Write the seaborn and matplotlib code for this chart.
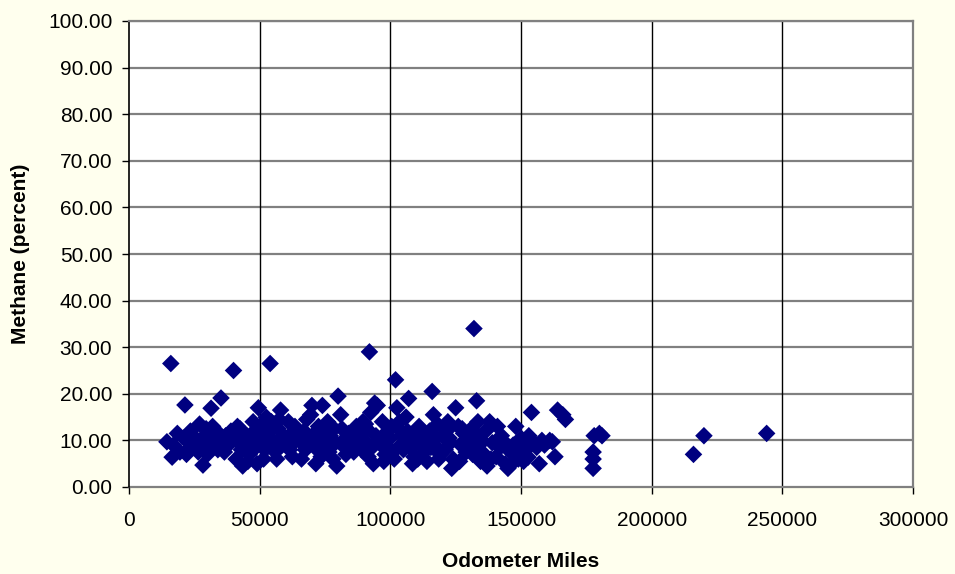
import matplotlib
matplotlib.use("Agg")
import matplotlib.pyplot as plt
import seaborn as sns
import pandas as pd

# Odometer reading (miles) and measured methane share (percent) for each vehicle
odometer_miles = [
    14500, 16500, 17000, 18500, 19500, 16000,
    21400, 21000, 22500, 23500, 24000, 22000, 24500,
    26000, 27000, 28300, 28000, 29000, 29500, 26500,
    31400, 30500, 31000, 32000, 33000, 34000, 33500, 30000,
    35200, 36000, 37000, 38000, 39000, 36500, 38500,
    40000, 40500, 41000, 42000, 43000, 44000, 42500, 43500, 41500,
    45000, 46000, 47000, 48000, 49000, 49500, 47500, 46500, 48500, 45500,
    50000, 51000, 52000, 53000, 54000, 54500, 52500, 51500, 53500, 50500,
    55000, 56000, 57000, 58000, 59000, 57500, 56500, 58500, 55500,
    60000, 61000, 62000, 63000, 64000, 62500, 61500, 63500,
    65000, 66000, 67000, 68000, 69000, 66500, 67500, 69500,
    70000, 71000, 72000, 73000, 74000, 72500, 71500, 73500, 74500,
    75000, 76000, 77000, 78000, 79000, 80000, 76500, 78500, 79500,
    81000, 82000, 83000, 84000, 82500, 84500, 81500,
    85000, 86000, 87000, 88000, 89000, 86500, 88500, 89500,
    90000, 91000, 92000, 92500, 93000, 94000, 94500, 93500, 91500, 90500,
    95000, 96000, 97000, 98000, 99000, 96500, 97500, 98500, 99500,
    100000, 101000, 102000, 102500, 103000, 104000, 101500, 103500, 104500, 100500,
    105000, 106000, 107000, 108000, 109000, 106500, 107500, 108500, 109500,
    110000, 111000, 112000, 113000, 114000, 112500, 113500, 110500,
    115000, 116000, 117000, 118000, 119000, 116500, 117500, 118500, 115500,
    120000, 121000, 122000, 123000, 124000, 125000, 121500, 123500, 122500,
    126000, 127000, 128000, 129000, 126500, 128500, 127500,
    130000, 131000, 132000, 133000, 134000, 132500, 131500, 133500, 134500, 130500,
    135000, 136000, 137000, 138000, 139000, 136500, 138500,
    141000, 142000, 143000, 144000, 145000, 142500, 140500,
    146000, 147000, 148000, 149000, 146500,
    150000, 151000, 152000, 153000, 154000, 153500, 152700, 150800,
    155000, 156000, 157000, 158000, 159000,
    161000, 162000, 163000, 164000, 166000, 167000,
    178000, 180000, 181000, 177600, 177600, 177600,
    216000, 220000, 244000,
]

methane_pct = [
    9.7, 6.4, 9.0, 11.5, 7.5, 26.5,
    17.6, 10.5, 8.0, 12.0, 9.5, 7.0, 11.0,
    10.0, 13.5, 4.7, 8.5, 11.0, 12.5, 7.5,
    16.9, 9.0, 11.5, 13.0, 10.0, 8.0, 12.0, 7.0,
    19.1, 10.5, 11.0, 9.0, 12.0, 7.5, 10.0,
    25.0, 11.5, 6.0, 9.5, 8.0, 10.5, 12.5, 4.5, 13.0,
    11.0, 7.0, 9.0, 12.0, 5.0, 17.0, 14.0, 10.0, 8.5, 5.5,
    13.0, 10.5, 8.0, 11.5, 26.5, 14.0, 15.0, 6.0, 9.5, 12.0,
    10.0, 7.5, 12.5, 16.5, 11.0, 14.5, 6.0, 9.0, 13.5,
    10.5, 14.0, 9.0, 12.0, 11.0, 6.5, 8.0, 13.0,
    10.0, 6.0, 12.0, 14.5, 9.5, 11.0, 8.0, 15.5,
    17.5, 11.5, 8.0, 10.0, 17.5, 13.0, 5.0, 6.5, 12.0,
    9.0, 14.0, 11.0, 6.0, 9.5, 19.5, 7.5, 12.5, 4.5,
    15.5, 10.0, 7.0, 11.5, 8.5, 9.0, 12.5,
    10.5, 7.5, 13.0, 11.0, 8.0, 12.0, 9.5, 14.0,
    10.0, 12.5, 29.0, 16.0, 8.5, 18.0, 11.0, 5.0, 6.5, 13.5,
    17.5, 10.0, 14.0, 7.0, 12.0, 9.0, 5.5, 11.0, 8.0,
    10.5, 7.5, 23.0, 17.0, 12.5, 9.0, 6.0, 14.0, 11.0, 13.0,
    8.0, 15.0, 19.0, 10.0, 6.5, 12.0, 8.5, 5.0, 11.5,
    9.5, 13.0, 7.0, 10.5, 5.5, 11.5, 8.0, 6.0,
    12.0, 20.5, 9.0, 13.5, 7.0, 15.5, 10.5, 6.0, 8.5,
    11.0, 8.0, 14.0, 9.5, 6.0, 17.0, 12.0, 4.0, 10.5,
    13.0, 9.0, 11.5, 7.5, 5.5, 10.0, 12.5,
    10.0, 12.5, 34.0, 18.5, 9.0, 11.5, 7.0, 14.0, 5.5, 8.5,
    10.0, 7.0, 4.5, 14.0, 9.5, 12.0, 6.0,
    13.0, 8.5, 10.0, 5.0, 4.0, 11.0, 6.5,
    7.5, 9.0, 13.0, 6.0, 5.0,
    10.5, 5.5, 8.0, 11.0, 16.0, 10.0, 6.4, 8.0,
    9.5, 8.5, 5.0, 10.0, 9.0,
    10.0, 9.7, 6.5, 16.5, 15.5, 14.5,
    11.0, 11.5, 11.0, 7.5, 6.0, 4.0,
    7.0, 11.0, 11.5,
]

x_ticks = [0, 50000, 100000, 150000, 200000, 250000, 300000]
y_ticks = [0, 10, 20, 30, 40, 50, 60, 70, 80, 90, 100]

df = pd.DataFrame({"Odometer Miles": odometer_miles, "Methane (percent)": methane_pct})

sns.set_style("white")
plt.rcParams["font.family"] = ["Liberation Sans", "DejaVu Sans"]
plt.rcParams["text.color"] = "black"
plt.rcParams["axes.labelcolor"] = "black"

bg = "#FFFFEE"
fig = plt.figure(figsize=(9.55, 5.74), dpi=100, facecolor=bg)
ax = fig.add_axes([129 / 955, 87 / 574, 784 / 955, 466 / 574])
ax.set_facecolor("white")

sns.scatterplot(data=df, x="Odometer Miles", y="Methane (percent)", ax=ax,
                marker="D", s=80, color="#000080", edgecolor="none",
                linewidth=0, zorder=3)

ax.set_xlim(0, 300000)
ax.set_ylim(0, 100)
ax.set_xticks(x_ticks)
ax.set_xticklabels([str(v) for v in x_ticks])
ax.set_yticks(y_ticks)
ax.set_yticklabels([f"{v:.2f}" for v in y_ticks])

# horizontal grid in grey, vertical grid in black
for v in y_ticks[1:]:
    ax.axhline(v, color="#808080", lw=1.6, zorder=1)
for v in x_ticks[1:-1]:
    ax.axvline(v, color="black", lw=1.0, zorder=1)

for side in ["top", "right", "bottom"]:
    ax.spines[side].set_color("#808080")
    ax.spines[side].set_linewidth(1.6)
ax.spines["left"].set_color("black")
ax.spines["left"].set_linewidth(1.2)
ax.spines["bottom"].set_zorder(2)

ax.tick_params(axis="both", which="major", direction="out", length=5,
               width=1.0, color="black", labelsize=15, labelcolor="black",
               left=True, bottom=True)
ax.tick_params(axis="y", pad=7)
ax.tick_params(axis="x", pad=12)

ax.set_xlabel("Odometer Miles", fontsize=15, fontweight="bold", labelpad=16,
              color="black")
ax.set_ylabel("Methane (percent)", fontsize=15, fontweight="bold", labelpad=13,
              color="black")

fig.savefig("out.png", dpi=100, facecolor=bg)
